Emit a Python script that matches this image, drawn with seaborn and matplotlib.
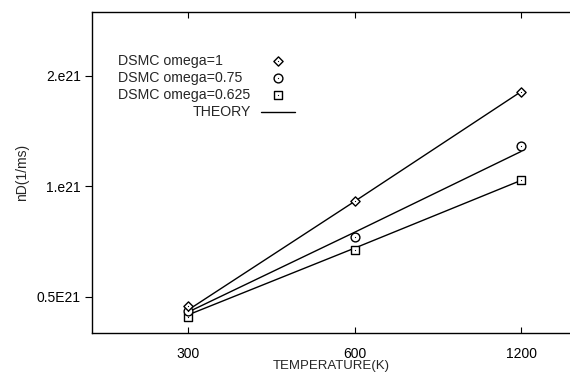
import numpy as np
import pandas as pd
import seaborn as sns
import matplotlib.pyplot as plt

# temperaturas (K)
temperature = [300, 600, 1200]

# resultados DSMC (1/ms)
dsmc_omega_1 = [0.473e21, 0.91e21, 1.81e21]
dsmc_omega_075 = [0.458e21, 0.727e21, 1.29e21]
dsmc_omega_0625 = [0.441e21, 0.67e21, 1.04e21]

# curvas teoricas
theory_omega_1 = [0.461e21, 0.91e21, 1.81e21]
theory_omega_075 = [0.455e21, 0.75e21, 1.244e21]
theory_omega_0625 = [0.447e21, 0.679e21, 1.038e21]

series_labels = ['DSMC omega=1', 'DSMC omega=0.75', 'DSMC omega=0.625']
theory_label = 'THEORY'

x_ticks = [300, 600, 1200]
x_tick_labels = ['300', '600', '1200']
y_ticks = [0.5e21, 1e21, 2e21]
y_tick_labels = ['0.5E21', '1.e21', '2.e21']

dsmc = pd.DataFrame({
    'T': temperature * 3,
    'nD': dsmc_omega_1 + dsmc_omega_075 + dsmc_omega_0625,
    'serie': [s for s in series_labels for _ in temperature],
})
theory = pd.DataFrame({
    'T': temperature * 3,
    'nD': theory_omega_1 + theory_omega_075 + theory_omega_0625,
    'serie': [s for s in series_labels for _ in temperature],
})

sns.set_style('ticks')
plt.rcParams['font.family'] = ['Liberation Sans', 'DejaVu Sans']

fig = plt.figure(figsize=(5.7, 3.82), dpi=100)
ax = fig.add_axes([92 / 570, 1 - 333 / 382, 478 / 570, 321 / 382])

sns.lineplot(data=theory, x='T', y='nD', units='serie', estimator=None,
             color='black', linewidth=1.0, ax=ax, legend=False)

marker_map = {'DSMC omega=1': 'D', 'DSMC omega=0.75': 'o', 'DSMC omega=0.625': 's'}
size_map = {'DSMC omega=1': 22, 'DSMC omega=0.75': 40, 'DSMC omega=0.625': 40}
for name, grp in dsmc.groupby('serie'):
    sns.scatterplot(data=grp, x='T', y='nD', marker=marker_map[name], s=size_map[name],
                    facecolor='white', edgecolor='black', linewidth=1.0, ax=ax,
                    legend=False, zorder=3)
    sns.scatterplot(data=grp, x='T', y='nD', marker='.', s=3, color='black',
                    linewidth=0, ax=ax, legend=False, zorder=4)

ax.set_xscale('log', base=2)
ax.set_yscale('log', base=2)
ax.set_xlim(201, 1471)
ax.set_ylim(0.399e21, 2.98e21)
ax.set_xticks(x_ticks)
ax.set_xticklabels(x_tick_labels)
ax.set_yticks(y_ticks)
ax.set_yticklabels(y_tick_labels)
ax.minorticks_off()

ax.tick_params(axis='x', direction='in', top=True, length=4, width=0.8,
               labelsize=10, pad=10, colors='black')
ax.tick_params(axis='y', direction='out', length=5, width=0.8,
               labelsize=10, pad=3, colors='black')
for side in ['left', 'bottom', 'top']:
    ax.spines[side].set_color('black')
    ax.spines[side].set_linewidth(1.0)
ax.spines['right'].set_visible(False)

ax.set_xlabel('TEMPERATURE(K)', fontsize=9.5, labelpad=-1)
ax.set_ylabel('nD(1/ms)', fontsize=10, labelpad=6)

# legenda manual (texto a esquerda, simbolo a direita)
rows_y = [0.847, 0.794, 0.741]
for name, yy in zip(series_labels, rows_y):
    ax.text(0.054, yy, name, transform=ax.transAxes, fontsize=10.2,
            ha='left', va='center')
    ax.scatter([0.389], [yy], transform=ax.transAxes, marker=marker_map[name],
               s=size_map[name], facecolor='white', edgecolor='black',
               linewidth=1.0, zorder=3, clip_on=False)
    ax.scatter([0.389], [yy], transform=ax.transAxes, marker='.', s=3,
               color='black', linewidth=0, zorder=4, clip_on=False)
ax.text(0.333, 0.688, theory_label, transform=ax.transAxes, fontsize=10.2,
        ha='right', va='center')
ax.plot([0.353, 0.424], [0.688, 0.688], transform=ax.transAxes,
        color='black', linewidth=1.0)

fig.savefig('out.png', dpi=100)
